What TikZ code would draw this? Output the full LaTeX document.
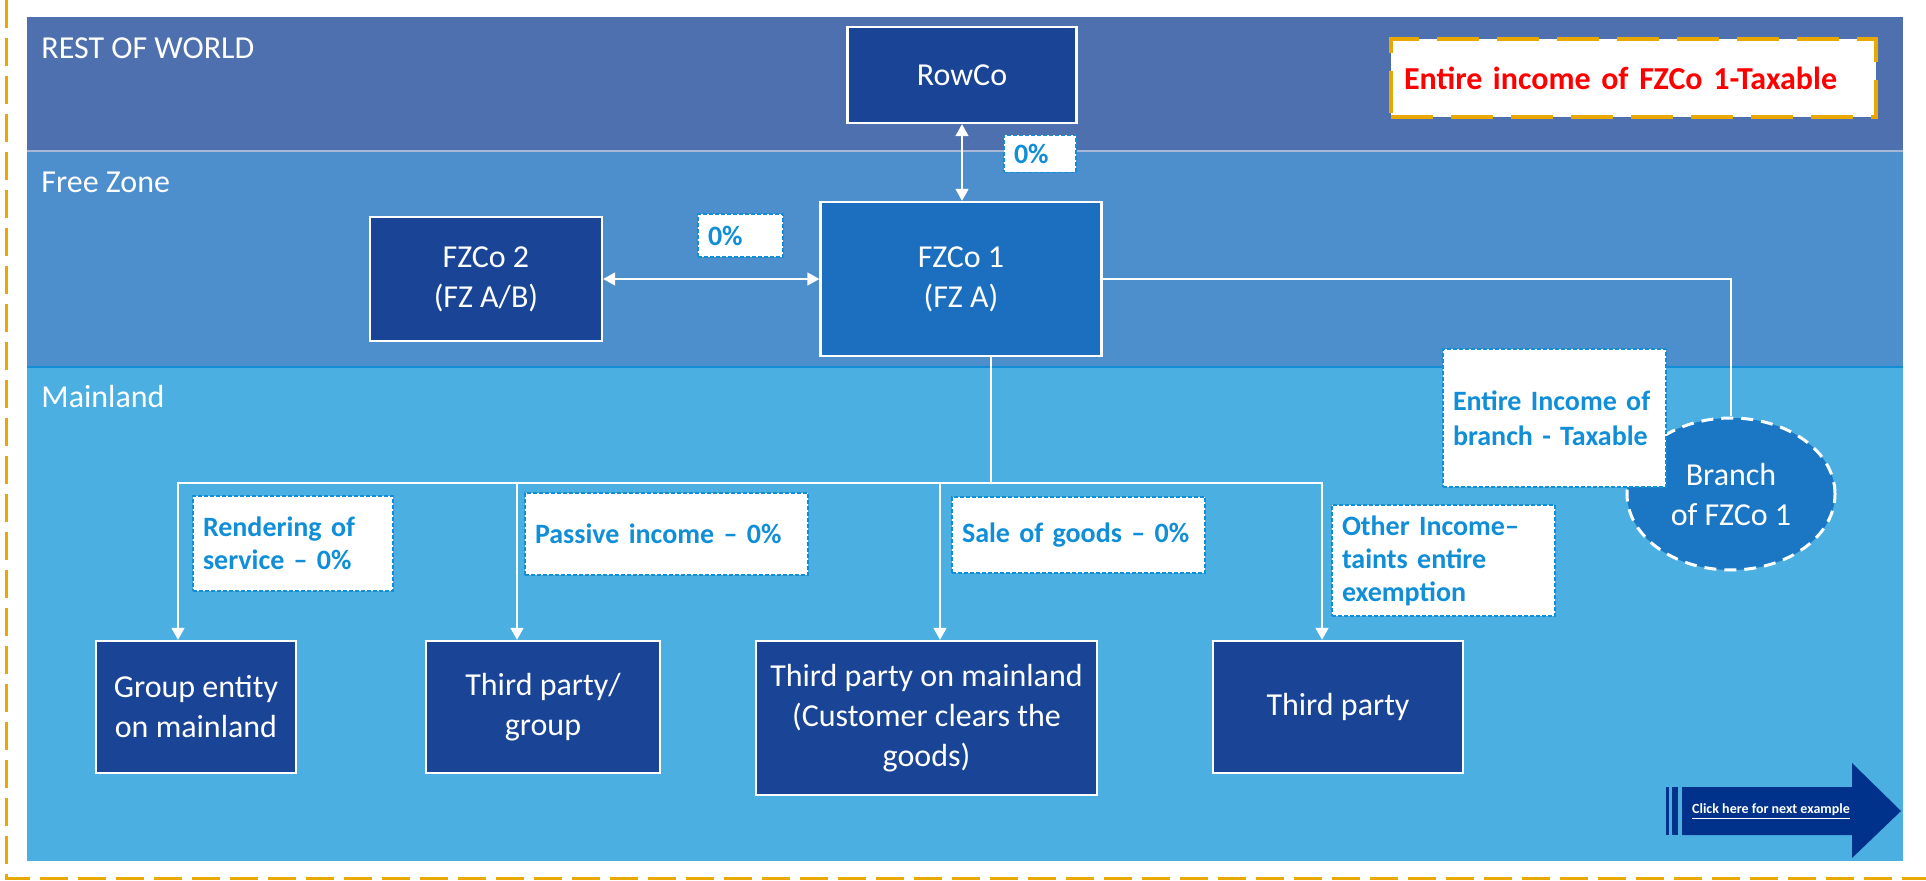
\documentclass[tikz,border=0pt]{standalone}
\usepackage{fontspec}
\setmainfont{Carlito}
\usetikzlibrary{arrows.meta,shapes.geometric}

\definecolor{rowblue}{RGB}{78,112,174}
\definecolor{fzblue}{RGB}{77,142,205}
\definecolor{mlblue}{RGB}{76,175,226}
\definecolor{darkbox}{RGB}{26,69,150}
\definecolor{midbox}{RGB}{27,111,190}
\definecolor{branchblue}{RGB}{27,118,196}
\definecolor{labelblue}{RGB}{16,142,216}
\definecolor{navy}{RGB}{0,50,140}
\definecolor{gold}{RGB}{232,168,0}

\begin{document}
\begin{tikzpicture}[x=0.5pt,y=-0.5pt,
  >={Triangle[width=6.5pt,length=6pt]},
  entity/.style={draw=white, line width=1.2pt, fill=darkbox, text=white,
    font=\fontsize{16}{20}\selectfont, align=center, inner sep=0pt},
  zone/.style={anchor=west, text=white, font=\fontsize{16}{20}\selectfont, inner sep=0pt},
  rate/.style={draw=labelblue, fill=white, line width=0.9pt, dash pattern=on 2pt off 1pt,
    text=labelblue, font=\bfseries\fontsize{14}{16.5}\selectfont, align=left,
    inner xsep=5pt, inner ysep=0pt},
  link/.style={draw=white, line width=0.8pt}]

\useasboundingbox (0,0) rectangle (1926,881);
\fill[white] (0,0) rectangle (1926,881);

% bands
\fill[rowblue] (27,17) rectangle (1903,151);
\fill[fzblue] (27,151) rectangle (1903,367);
\fill[mlblue] (27,367) rectangle (1903,861);
\draw[line width=0.8pt, color=rowblue!50!white] (27,151) -- (1903,151);
\draw[line width=1.2pt, color=labelblue] (27,367) -- (1903,367);
\draw[gold, line width=1.5pt, dash pattern=on 14pt off 5pt] (6,0) -- (6,878) -- (1926,878);

\node[zone] (row) at (41,48) {REST OF WORLD};
\node[zone] (fz) at (41,182) {Free Zone};
\node[zone] (ml) at (41,397) {Mainland};

% entities
\node[entity, minimum width=114.5pt, minimum height=48pt] (rowco) at (962,75) {RowCo};
\node[entity, fill=midbox, minimum width=140.5pt, minimum height=77pt] (fzco1) at (961,279) {FZCo 1\\(FZ A)};
\node[entity, minimum width=116pt, minimum height=62pt] (fzco2) at (486,279) {FZCo 2\\(FZ A/B)};
\node[entity, fill=branchblue, ellipse, line width=1.5pt, dash pattern=on 6pt off 4pt,
  minimum width=104pt, minimum height=76pt] (branch) at (1731,494) {Branch\\of FZCo 1};
\node[entity, minimum width=100pt, minimum height=66pt] (group) at (196,707) {Group entity\\on mainland};
\node[entity, minimum width=117pt, minimum height=66pt] (tpgroup) at (543,707) {Third party/\\group};
\node[entity, minimum width=170.5pt, minimum height=77pt] (tpmain) at (926.5,718) {Third party on mainland\\(Customer clears the\\goods)};
\node[entity, minimum width=125pt, minimum height=66pt] (tp) at (1338,707) {Third party};

% rates
\node[rate, text width=26pt, minimum height=18.5pt] (rowrate) at (1040,154) {0\%};
\node[rate, text width=32.5pt, minimum height=21.5pt] (fzrate) at (740.5,235.5) {0\%};
\node[rate, text width=90pt, minimum height=47.5pt] (servrate) at (293,543.5) {Rendering of\\service -- 0\%};
\node[rate, text width=131.5pt, minimum height=41pt] (passrate) at (666.5,534) {Passive income -- 0\%};
\node[rate, text width=116.5pt, minimum height=38pt] (salerate) at (1078.5,535) {Sale of goods -- 0\%};
\node[rate, text width=101.5pt, minimum height=55.5pt] (otherrate) at (1443.5,560.5) {Other Income--\\taints entire\\exemption};
\node[rate, text width=101.5pt, minimum height=69pt, font=\bfseries\fontsize{14}{17.5}\selectfont] (branchrate) at (1554.5,418) {Entire Income of\\branch - Taxable};
\node[draw=gold, fill=white, line width=2pt, dash pattern=on 21pt off 9pt, text=red,
  font=\bfseries\fontsize{16}{20}\selectfont, align=left, text width=229.5pt,
  inner xsep=6.5pt, minimum height=39pt] (taxnote) at (1633.5,78) {Entire income of FZCo 1-Taxable};

% connectors
\coordinate (bus) at (991,483);
\draw[link, <->] (rowco.south) -- (rowco.south |- fzco1.north);
\draw[link, <->] (fzco2) -- (fzco1);
\draw[link] (fzco1.east) -| (branch.north);
\draw[link] (bus |- fzco1.south) -- (bus);
\draw[link, ->] (bus) -| ([xshift=-9pt]group.north);
\draw[link, ->] (bus) -| ([xshift=-13pt]tpgroup.north);
\draw[link, ->] (bus) -| ([xshift=6.75pt]tpmain.north);
\draw[link, ->] (bus) -| ([xshift=-8pt]tp.north);

% next button
\fill[navy] (1666,787) rectangle (1669,835);
\fill[navy] (1672,787) rectangle (1678,835);
\fill[navy] (1682,787) -- (1852,787) -- (1852,763) -- (1901,811) -- (1852,858) -- (1852,835) -- (1682,835) -- cycle;
\node[text=white, font=\bfseries\fontsize{7}{8}\selectfont, inner sep=0pt] (nextbtn) at (1771,812) {\underline{Click here for next example}};
\end{tikzpicture}
\end{document}
